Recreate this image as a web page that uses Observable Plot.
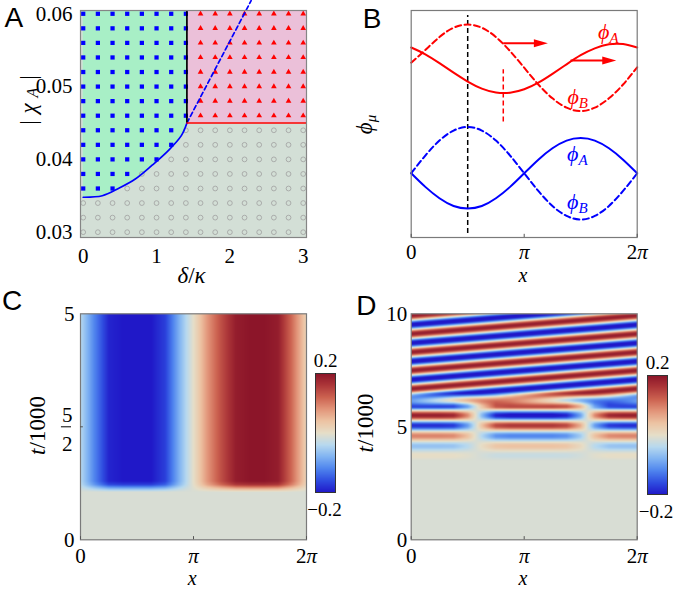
<!DOCTYPE html>
<html>
<head>
<meta charset="utf-8">
<script src="https://cdn.jsdelivr.net/npm/d3@7"></script>
<script src="https://cdn.jsdelivr.net/npm/@observablehq/plot@0.6"></script>
<style>
html,body{margin:0;padding:0;background:#fff;}
#fig{position:relative;width:677px;height:590px;overflow:hidden;background:#fff;}
#fig svg{position:absolute;overflow:visible;}
</style>
</head>
<body>
<div id="fig"></div>
<script>
const PI = Math.PI;

/* ---------------- Panel A: phase diagram ---------------- */
const aColX = [0, 0.2, 0.4, 0.6, 0.8, 1.0, 1.2, 1.4, 1.6, 1.8, 2.0, 2.2, 2.4, 2.6, 2.8, 3.0];
const aRowY = [0.030, 0.032, 0.034, 0.036, 0.038, 0.040, 0.042, 0.044, 0.046, 0.048, 0.050, 0.052, 0.054, 0.056, 0.058, 0.060];
const aBoundX = [0, 0.26, 0.48, 0.71, 0.94, 1.16, 1.34, 1.414];
const aBoundY = [0.0348, 0.0350, 0.0360, 0.0373, 0.0392, 0.0412, 0.0433, 0.0450];
const aCritX = 1.414;
const aCritY = 0.045;
const aDashX = [1.414, 2.29];
const aDashY = [0.045, 0.0618];
const aXTicks = [0, 1, 2, 3];
const aYTicks = [0.03, 0.04, 0.05, 0.06];

/* ---------------- Panel B: field profiles (x in units of pi) ---------------- */
const bXpi = [0, 0.125, 0.25, 0.375, 0.5, 0.625, 0.75, 0.875, 1, 1.125, 1.25, 1.375, 1.5, 1.625, 1.75, 1.875, 2];
const bRedA  = [83.7, 80.7, 76.8, 72.6, 68.7, 65.6, 63.9, 63.8, 65.3, 68.2, 72.1, 76.3, 80.3, 83.3, 85.1, 85.2, 83.7];
const bRedB  = [77.0, 82.6, 88.3, 92.4, 93.8, 92.4, 88.3, 82.1, 74.8, 67.4, 61.3, 57.2, 55.7, 57.2, 61.3, 67.4, 75.0];
const bBlueA = [28.3, 22.3, 17.3, 13.9, 12.8, 13.9, 17.3, 22.3, 28.3, 34.3, 39.3, 42.7, 43.8, 42.7, 39.3, 34.3, 28.3];
const bBlueB = [28.3, 36.1, 42.7, 47.1, 48.7, 47.1, 42.7, 36.1, 28.3, 20.5, 13.9, 9.5, 7.9, 9.5, 13.9, 20.5, 28.3];
const bGuideX = 0.5 * PI, bGuideY = [1.8, 97.8];
const bMinX = 2.56, bMinY = [50.9, 73.9];
const bArrowX1 = [2.56, 4.43];
const bArrowX2 = [3.80, 5.70];
const bArrowY = [85.6, 78.0];
const bLabelX = [5.48, 4.63, 4.62, 4.62];
const bLabelY = [90.5, 61.9, 36.7, 15.7];
const bLabelText = ["ϕA", "ϕB", "ϕA", "ϕB"];
const bLabelSeries = ["red", "red", "blue", "blue"];
const piTicks = [0, PI, 2 * PI];
const piTickLabels = ["0", "π", "2π"];

/* ---------------- Panel C: pinned pattern ---------------- */
const cProfile = [-0.04, -0.12, -0.19, -0.2, -0.2, -0.2, -0.17, -0.08, 0.0, 0.08, 0.14, 0.19, 0.2, 0.2, 0.19, 0.11, 0.02];
const cOnsetT = [0, 1.06, 1.14, 1.22, 1.30, 5];
const cOnsetW = [0, 0, 0.4, 0.85, 1, 1];
const cRest = -0.012;
const cYTicks = [0, 5];
const cMidTick = 2.5;

/* ---------------- Panel D: travelling pattern ---------------- */
const dEnvT = [0, 3.5, 3.9, 4.3, 4.7, 5.1, 5.5, 6.0, 10];
const dEnvA = [0, 0, 0.03, 0.07, 0.12, 0.18, 0.2, 0.2, 0.2];
const dMixT = [0, 5.85, 6.5, 10];
const dMixW = [0, 0, 1, 1];
const dStandProfile = [1, 1, 1, 0.95, 0.5, -0.3, -0.9, -1, -1, -1, -1, -0.9, -0.4, 0.5, 0.95, 1, 1];
const dStandCrestT = [2.71, 3.64, 4.57, 5.50, 6.43];
const dTravelCrestT = [5.87, 6.68, 7.49, 8.30, 9.11, 9.92, 10.73];
const dRest = -0.012;
const dYTicks = [0, 5, 10];

/* colour map (style) */
const cmapStops = [-0.2, -0.16, -0.12, -0.08, -0.04, 0, 0.04, 0.08, 0.12, 0.16, 0.2];
const cmapColors = ["#2018c8", "#2f4de0", "#4f84ee", "#80b3f2", "#b7d9ef", "#e6dec8", "#edc3a3", "#e2957a", "#cc6250", "#ad3739", "#8c1529"];
const cmap = {type: "linear", domain: cmapStops, range: cmapColors, clamp: true};

const RED = "#ff0000", BLUE = "#0000ff";
const serif = '"Liberation Serif", "Times New Roman", Times, "Nimbus Roman", "DejaVu Serif", serif';
const sans = '"Liberation Sans", Arial, Helvetica, "DejaVu Sans", sans-serif';
const baseStyle = {background: "transparent", overflow: "visible", fontFamily: serif, fontSize: "21px", color: "#000"};
const piFmt = d => piTickLabels[piTicks.findIndex(t => Math.abs(t - d) < 1e-6)];

const fig = document.getElementById("fig");
function place(svg, left, top) { svg.style.left = left + "px"; svg.style.top = top + "px"; fig.appendChild(svg); }

/* ===== Panel A ===== */
const aDomX = [-0.037, 3.045], aDomY = [0.02927, 0.06045];
const boundAt = d3.scaleLinear().domain(aBoundX).range(aBoundY);
const aPts = aColX.flatMap(x => aRowY.map(y => {
  let phase = "static";
  if (x < aCritX && y > boundAt(x) + 0.0001) phase = "standing";
  else if (x > aCritX && y > aCritY) phase = "travelling";
  return {x, y, phase};
}));
const aBound = aBoundX.map((x, i) => ({x, y: aBoundY[i], top: aDomY[1]}));
const aDash = aDashX.map((x, i) => ({x, y: aDashY[i]}));
const plotA = Plot.plot({
  width: 340, height: 290, marginLeft: 80, marginRight: 34, marginTop: 10, marginBottom: 53,
  x: {domain: aDomX, label: null}, y: {domain: aDomY, label: null},
  style: baseStyle,
  marks: [
    Plot.rect([{x1: aDomX[0], x2: aDomX[1], y1: aDomY[0], y2: aDomY[1]}], {x1: "x1", x2: "x2", y1: "y1", y2: "y2", fill: "#d3dfd6"}),
    Plot.areaY(aBound, {x: "x", y1: "y", y2: "top", fill: "#a8efc6", curve: "catmull-rom"}),
    Plot.rect([{x1: aCritX, x2: aDomX[1], y1: aCritY, y2: aDomY[1]}], {x1: "x1", x2: "x2", y1: "y1", y2: "y2", fill: "#ebc0d9"}),
    Plot.dot(aPts.filter(d => d.phase === "static"), {x: "x", y: "y", r: 2.4, stroke: "#a0a0a0", strokeWidth: 0.8, fill: "none"}),
    Plot.dot(aPts.filter(d => d.phase === "standing"), {x: "x", y: "y", r: 2.4, symbol: "square", fill: BLUE}),
    Plot.dot(aPts.filter(d => d.phase === "travelling"), {x: "x", y: "y", r: 2.7, symbol: "triangle2", fill: RED}),
    Plot.line(aBound, {x: "x", y: "y", stroke: BLUE, strokeWidth: 1.7, curve: "catmull-rom"}),
    Plot.line(aDash, {x: "x", y: "y", stroke: BLUE, strokeWidth: 1.7, strokeDasharray: "4.5,3"}),
    Plot.ruleX([{x: aCritX, y1: aCritY, y2: aDomY[1]}], {x: "x", y1: "y1", y2: "y2", stroke: "#000", strokeWidth: 1.7}),
    Plot.ruleY([{y: aCritY, x1: aCritX, x2: aDomX[1]}], {y: "y", x1: "x1", x2: "x2", stroke: RED, strokeWidth: 1.5}),
    Plot.frame({stroke: "#858585", strokeWidth: 1.2}),
    Plot.axisX({ticks: aXTicks, tickSize: 0, tickPadding: 11, tickFormat: d => String(d), label: null}),
    Plot.axisY({ticks: aYTicks, tickSize: 0, tickPadding: 8, tickFormat: d => d.toFixed(2), label: null})
  ]
});
place(plotA, 0, 0);

/* ===== Panel B ===== */
const bRows = vals => bXpi.map((p, i) => ({x: p * PI, y: vals[i]}));
const bArrows = bArrowX1.map((x1, i) => ({x1, x2: bArrowX2[i], y: bArrowY[i]}));
const bLabels = bLabelX.map((x, i) => ({x, y: bLabelY[i], text: bLabelText[i], series: bLabelSeries[i]}));
const arrowHead = {draw(ctx) { ctx.moveTo(0, 0); ctx.lineTo(-14, -4); ctx.lineTo(-14, 4); ctx.closePath(); }};
const plotB = Plot.plot({
  width: 337, height: 290, marginLeft: 70.7, marginRight: 40.3, marginTop: 10, marginBottom: 53,
  x: {domain: [0, 2 * PI], label: null}, y: {domain: [0, 100], label: null, axis: null},
  style: baseStyle,
  marks: [
    Plot.ruleX([{x: bGuideX, y1: bGuideY[0], y2: bGuideY[1]}], {x: "x", y1: "y1", y2: "y2", stroke: "#000", strokeWidth: 1.5, strokeDasharray: "5,3"}),
    Plot.line(bRows(bRedA), {x: "x", y: "y", stroke: RED, strokeWidth: 2, curve: "natural"}),
    Plot.line(bRows(bRedB), {x: "x", y: "y", stroke: RED, strokeWidth: 2, curve: "natural", strokeDasharray: "6,3.5"}),
    Plot.line(bRows(bBlueA), {x: "x", y: "y", stroke: BLUE, strokeWidth: 2, curve: "natural"}),
    Plot.line(bRows(bBlueB), {x: "x", y: "y", stroke: BLUE, strokeWidth: 2, curve: "natural", strokeDasharray: "6,3.5"}),
    Plot.ruleX([{x: bMinX, y1: bMinY[0], y2: bMinY[1]}], {x: "x", y1: "y1", y2: "y2", stroke: RED, strokeWidth: 1.5, strokeDasharray: "5,3"}),
    Plot.link(bArrows, {x1: "x1", x2: d => d.x2 - 0.3, y1: "y", y2: "y", stroke: RED, strokeWidth: 2}),
    Plot.dot(bArrows, {x: "x2", y: "y", symbol: arrowHead, fill: RED, r: 5}),
    Plot.text(bLabels.filter(d => d.series === "red"), {x: "x", y: "y", text: "text", fill: RED, fontSize: 22}),
    Plot.text(bLabels.filter(d => d.series === "blue"), {x: "x", y: "y", text: "text", fill: BLUE, fontSize: 22}),
    Plot.frame({stroke: "#7a7a7a", strokeWidth: 1.2}),
    Plot.ruleX(piTicks, {y1: 0, y2: 1.4, stroke: "#555"}),
    Plot.axisX({ticks: piTicks, tickSize: 0, tickPadding: 7, tickFormat: piFmt, label: null})
  ]
});
place(plotB, 340, 0);

/* ===== Panel C ===== */
const sampleX = bXpi.map(p => p * PI);
const cProf = d3.scaleLinear().domain(sampleX).range(cProfile);
const cOn = d3.scaleLinear().domain(cOnsetT).range(cOnsetW).clamp(true);
const cField = (x, t) => { const w = cOn(t); return cProf(x) * w + cRest * (1 - w); };
const plotC = Plot.plot({
  width: 340, height: 300, marginLeft: 80, marginRight: 34, marginTop: 23.3, marginBottom: 50.7,
  x: {domain: [0, 2 * PI], label: null}, y: {domain: [0, 5], label: null},
  color: cmap,
  style: baseStyle,
  marks: [
    Plot.raster({x1: 0, x2: 2 * PI, y1: 0, y2: 5, width: 226, height: 226, fill: cField}),
    Plot.frame({stroke: "#7a7a7a", strokeWidth: 1.2}),
    Plot.ruleX(piTicks, {y1: 0, y2: 0.07, stroke: "#555"}),
    Plot.ruleY([cMidTick], {x1: 0, x2: 0.08, stroke: "#555"}),
    Plot.ruleY([cMidTick], {x1: -0.53, x2: -0.25, stroke: "#000", strokeWidth: 1}),
    Plot.text([cMidTick], {x: 0, y: d => d, text: () => "5", dx: -13.3, dy: -11.5}),
    Plot.text([cMidTick], {x: 0, y: d => d, text: () => "2", dx: -13.3, dy: 17.5}),
    Plot.axisX({ticks: piTicks, tickSize: 0, tickPadding: 8, tickFormat: piFmt, label: null}),
    Plot.axisY({ticks: cYTicks, tickSize: 0, tickPadding: 6, tickFormat: d => String(d), label: null})
  ]
});
place(plotC, 0, 290);

/* ===== Panel D ===== */
const dEnv = d3.scaleLinear().domain(dEnvT).range(dEnvA).clamp(true);
const dMix = d3.scaleLinear().domain(dMixT).range(dMixW).clamp(true);
const dProf = d3.scaleLinear().domain(sampleX).range(dStandProfile);
const phaseOf = crests => d3.scaleLinear().domain(crests).range(crests.map((_, i) => 2 * PI * i));
const dStandPhase = phaseOf(dStandCrestT), dTravelPhase = phaseOf(dTravelCrestT);
const dField = (x, t) => {
  const A = dEnv(t), m = dMix(t);
  return dRest + A * ((1 - m) * dProf(x) * Math.cos(dStandPhase(t)) + m * Math.cos(dTravelPhase(t) - x));
};
const plotD = Plot.plot({
  width: 337, height: 300, marginLeft: 70.7, marginRight: 40.3, marginTop: 23.3, marginBottom: 50.7,
  x: {domain: [0, 2 * PI], label: null}, y: {domain: [0, 10], label: null},
  color: cmap,
  style: baseStyle,
  marks: [
    Plot.raster({x1: 0, x2: 2 * PI, y1: 0, y2: 10, width: 226, height: 226, fill: dField}),
    Plot.frame({stroke: "#7a7a7a", strokeWidth: 1.2}),
    Plot.ruleX(piTicks, {y1: 0, y2: 0.14, stroke: "#555"}),
    Plot.axisX({ticks: piTicks, tickSize: 0, tickPadding: 8, tickFormat: piFmt, label: null}),
    Plot.axisY({ticks: dYTicks, tickSize: 0, tickPadding: 4, tickFormat: d => String(d), label: null})
  ]
});
place(plotD, 340, 290);

/* ===== Colour bars ===== */
function colorbar(barLeft, barTop, minusDx) {
  const bar = Plot.plot({
    width: 40, height: 179, marginLeft: 10, marginRight: 10, marginTop: 30, marginBottom: 30,
    x: {domain: [0, 1], axis: null}, y: {domain: [-0.2, 0.2], axis: null},
    color: cmap,
    style: {...baseStyle, fontSize: "19px"},
    marks: [
      Plot.raster({x1: 0, x2: 1, y1: -0.2, y2: 0.2, width: 1, height: 119, fill: (x, y) => y}),
      Plot.frame({stroke: "#333", strokeWidth: 1}),
      Plot.text(["0.2"], {frameAnchor: "top", text: d => d, lineAnchor: "middle", dy: -12.5}),
      Plot.text(["−0.2"], {frameAnchor: "bottom-left", text: d => d, textAnchor: "start", lineAnchor: "middle", dx: minusDx, dy: 17.7})
    ]
  });
  place(bar, barLeft - 10, barTop - 30);
}
colorbar(315, 373.3, -8.3);
colorbar(646.7, 374.5, -8.7);

/* ===== Overlay: axis titles ===== */
const axisTitles = [
  {text: "δ/κ", x: 191, y: 275.5, rotate: 0, size: 23},
  {text: "x", x: 522.5, y: 275, rotate: 0, size: 20},
  {text: "x", x: 191.7, y: 578.5, rotate: 0, size: 20},
  {text: "x", x: 522.5, y: 578.5, rotate: 0, size: 20},
  {text: "|", x: 28, y: 122, rotate: -90, size: 23},
  {text: "χ", x: 28, y: 108, rotate: -90, size: 23},
  {text: "A", x: 32, y: 92, rotate: -90, size: 16},
  {text: "|", x: 28, y: 77, rotate: -90, size: 23},
  {text: "ϕμ", x: 364.5, y: 124, rotate: -90, size: 23},
  {text: "t/1000", x: 36.7, y: 425, rotate: -90, size: 23},
  {text: "t/1000", x: 365, y: 422.5, rotate: -90, size: 23}
];
const overlay = Plot.plot({
  width: 677, height: 590, margin: 0,
  x: {domain: [0, 677], axis: null}, y: {domain: [0, 590], reverse: true, axis: null},
  style: {...baseStyle, fontSize: "23px"},
  marks: [
    Plot.text(axisTitles, {x: "x", y: "y", text: "text", rotate: "rotate", fontSize: "size"})
  ]
});
overlay.style.pointerEvents = "none";
place(overlay, 0, 0);

/* serif everywhere; italic symbols and subscripts as tspans */
const italicParts = {
  "δ/κ": '<tspan font-style="italic">δ</tspan>/<tspan font-style="italic">κ</tspan>',
  "x": '<tspan font-style="italic">x</tspan>',
  "χ": '<tspan font-style="italic">χ</tspan>',
  "A": '<tspan font-style="italic">A</tspan>',
  "ϕμ": '<tspan font-style="italic">ϕ</tspan><tspan font-style="italic" font-size="15" dy="4">μ</tspan>',
  "ϕA": '<tspan font-style="italic">ϕ</tspan><tspan font-style="italic" font-size="15" dy="4">A</tspan>',
  "ϕB": '<tspan font-style="italic">ϕ</tspan><tspan font-style="italic" font-size="15" dy="4">B</tspan>',
  "t/1000": '<tspan font-style="italic">t</tspan>/1000'
};
fig.querySelectorAll("text").forEach(t => {
  t.style.fontFamily = serif;
  const s = t.textContent;
  if (t.children.length === 0) {
    if (italicParts[s]) t.innerHTML = italicParts[s];
    else if (s.includes("π")) t.innerHTML = s.replace("π", '<tspan font-style="italic">π</tspan>');
  }
});

/* ===== Panel letters (sans) ===== */
const letters = [
  {text: "A", x: 13.3, y: 17.5}, {text: "B", x: 371.7, y: 19}, {text: "C", x: 11.7, y: 301}, {text: "D", x: 365.8, y: 306}
];
const letterPlot = Plot.plot({
  width: 677, height: 590, margin: 0,
  x: {domain: [0, 677], axis: null}, y: {domain: [0, 590], reverse: true, axis: null},
  style: {background: "transparent", overflow: "visible", fontFamily: sans, fontSize: "28px"},
  marks: [Plot.text(letters, {x: "x", y: "y", text: "text", fontSize: 28})]
});
letterPlot.style.pointerEvents = "none";
letterPlot.querySelectorAll("text").forEach(t => { t.style.fontFamily = sans; });
place(letterPlot, 0, 0);
</script>
</body>
</html>
